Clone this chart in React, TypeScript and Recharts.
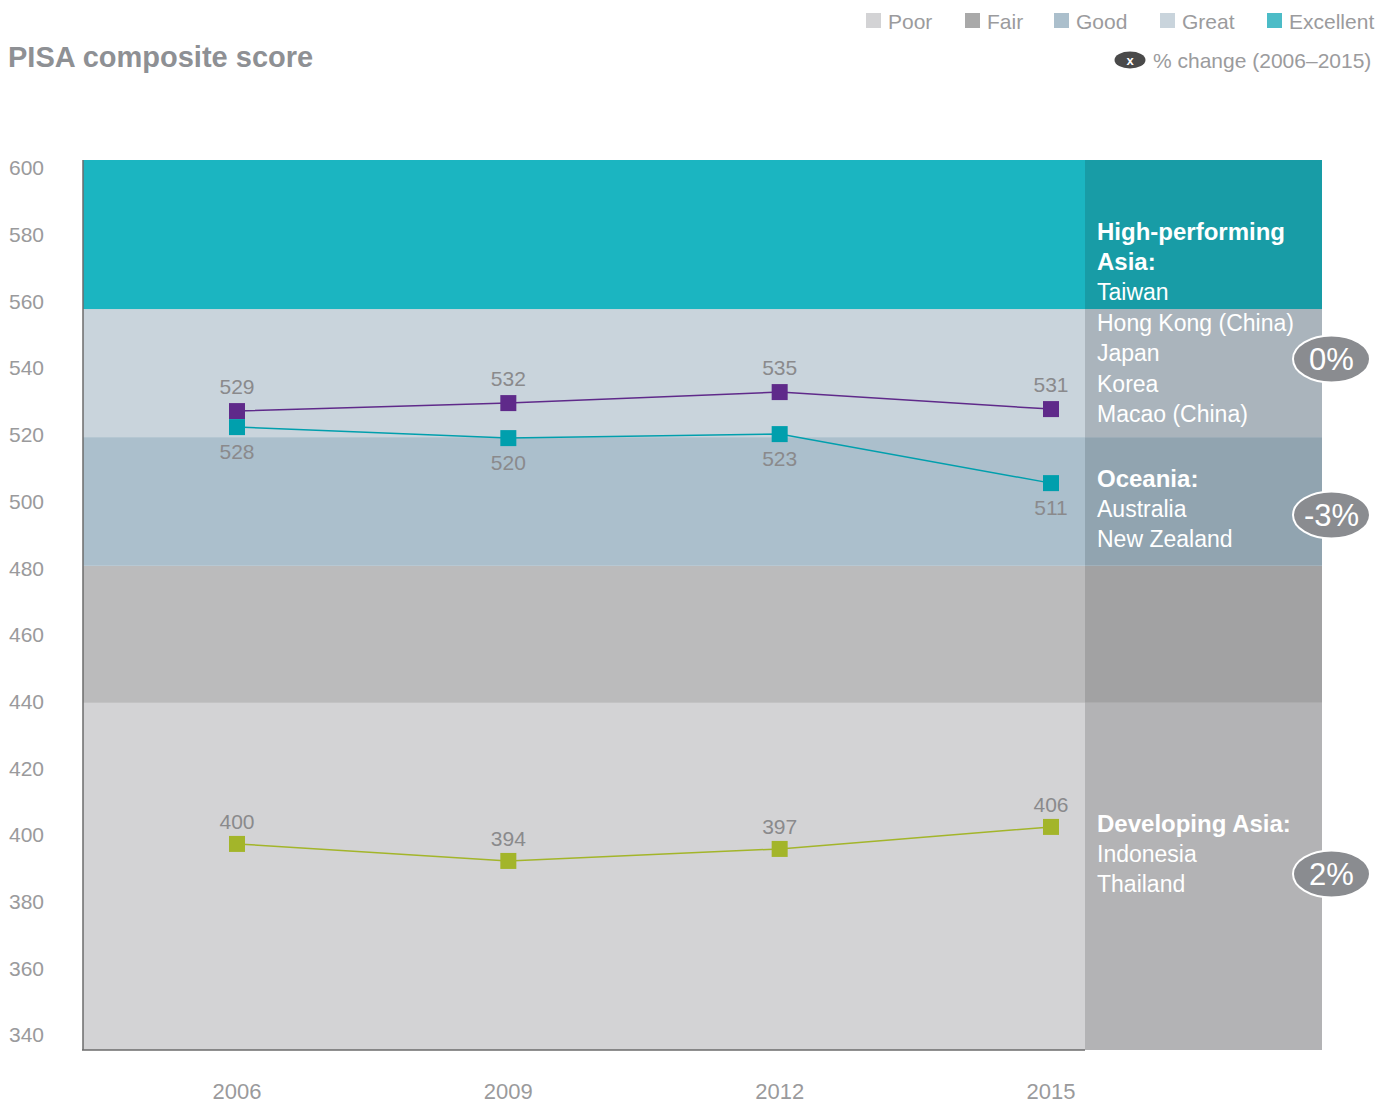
import React from 'react';
import { LineChart, Line, XAxis, YAxis, ReferenceArea, LabelList } from 'recharts';

// ---- data ----
const years = ['2006', '2009', '2012', '2015'];
// plotted positions (as drawn in the picture)
const highAsia = [527.1, 529.5, 532.8, 527.7];
const oceania = [522.3, 519.0, 520.2, 505.5];
const devAsia = [397.3, 392.2, 395.8, 402.4];
// printed value labels
const highAsiaLabels = ['529', '532', '535', '531'];
const oceaniaLabels = ['528', '520', '523', '511'];
const devAsiaLabels = ['400', '394', '397', '406'];

const yTicks = [340, 360, 380, 400, 420, 440, 460, 480, 500, 520, 540, 560, 580, 600];
const yDomain = [335.5, 602.4];

const bandNames = ['Poor', 'Fair', 'Good', 'Great', 'Excellent'];
const bandEdges = [335.5, 439.6, 480.7, 519.3, 557.7, 602.4];
const bandColors = ['#d3d3d5', '#bbbbbc', '#abbfcc', '#c9d4dc', '#1bb5c1'];
const bandSideColors = ['#b3b3b5', '#a2a2a3', '#91a4b0', '#aab4bc', '#189ca6'];
const legendColors = ['#d3d3d5', '#a9a9a9', '#abbfcc', '#c9d4dc', '#4cbcc7'];

const seriesColors = { high: '#5f2a8a', oce: '#009fad', dev: '#a3b52a' };

const groupHeads = [['High-performing', 'Asia:'], ['Oceania:'], ['Developing Asia:']];
const groupMembers = [
  ['Taiwan', 'Hong Kong (China)', 'Japan', 'Korea', 'Macao (China)'],
  ['Australia', 'New Zealand'],
  ['Indonesia', 'Thailand'],
];
const groupChanges = ['0%', '-3%', '2%'];

const data = years.map((y, i) => ({
  year: y,
  high: highAsia[i],
  oce: oceania[i],
  dev: devAsia[i],
}));

const FONT = '"Liberation Sans", Arial, Helvetica, sans-serif';
const PLOT_LEFT = 83;
const MAIN_RIGHT = 1085;
const PLOT_RIGHT = 1322;

function BandShape(props: any) {
  const { y, height, mainFill, sideFill, bottomLine } = props;
  return (
    <g>
      <rect x={PLOT_LEFT} y={y} width={MAIN_RIGHT - PLOT_LEFT} height={height} fill={mainFill} />
      <rect x={MAIN_RIGHT} y={y} width={PLOT_RIGHT - MAIN_RIGHT} height={height} fill={sideFill} />
      {bottomLine ? (
        <line x1={PLOT_LEFT - 1} x2={MAIN_RIGHT} y1={y + height} y2={y + height} stroke="#6b6b6b" strokeWidth={1.5} />
      ) : null}
    </g>
  );
}

const makeDot = (color: string) => (p: any) => (
  <rect key={`d-${color}-${p.index}`} x={p.cx - 8} y={p.cy - 8} width={16} height={16} fill={color} />
);

const makeLabel = (labels: string[], offset: number) => (p: any) => (
  <text
    key={`l-${offset}-${p.index}`}
    x={p.x}
    y={p.y + offset}
    textAnchor="middle"
    dominantBaseline="central"
    fill="#8a8a8c"
    fontSize={21}
    fontFamily={FONT}
  >
    {labels[p.index]}
  </text>
);

const YTick = (p: any) => (
  <text x={p.x} y={p.y} dy="0.35em" textAnchor="end" fill="#9a9a9c" fontSize={21} fontFamily={FONT}>
    {p.payload.value}
  </text>
);

const XTick = (p: any) => (
  <text x={p.x} y={p.y} dy="0.71em" textAnchor="middle" fill="#9a9a9c" fontSize={22} fontFamily={FONT}>
    {p.payload.value}
  </text>
);

export default function App() {
  const legendX = [866, 965, 1054, 1160, 1267];
  const groupY = [231, 478, 823];
  const bubbleY = [359, 515, 874];
  return (
    <div style={{ position: 'absolute', left: 0, top: 0, width: 1390, height: 1105, fontFamily: FONT, background: '#fff' }}>
      <LineChart
        width={1390}
        height={1105}
        data={data}
        margin={{ top: 160, right: 68, left: 0, bottom: 0 }}
      >
        {bandNames.map((name, i) => (
          <ReferenceArea
            key={name}
            y1={bandEdges[i]}
            y2={bandEdges[i + 1]}
            ifOverflow="visible"
            shape={(p: any) => (
              <BandShape {...p} mainFill={bandColors[i]} sideFill={bandSideColors[i]} bottomLine={i === 0} />
            )}
          />
        ))}
        <XAxis
          dataKey="year"
          height={55}
          padding={{ left: 154, right: 271 }}
          axisLine={false}
          tickLine={false}
          tickSize={0}
          tickMargin={33}
          tick={<XTick />}
          interval={0}
        />
        <YAxis
          width={83}
          type="number"
          domain={yDomain}
          ticks={yTicks}
          allowDataOverflow
          axisLine={{ stroke: '#6b6b6b', strokeWidth: 1.5 }}
          tickLine={false}
          tickSize={0}
          tickMargin={39}
          tick={<YTick />}
          interval={0}
        />
        <Line
          dataKey="high"
          stroke={seriesColors.high}
          strokeWidth={1.5}
          dot={makeDot(seriesColors.high)}
          activeDot={false}
          isAnimationActive={false}
        >
          <LabelList dataKey="high" content={makeLabel(highAsiaLabels, -25)} />
        </Line>
        <Line
          dataKey="oce"
          stroke={seriesColors.oce}
          strokeWidth={1.5}
          dot={makeDot(seriesColors.oce)}
          activeDot={false}
          isAnimationActive={false}
        >
          <LabelList dataKey="oce" content={makeLabel(oceaniaLabels, 24)} />
        </Line>
        <Line
          dataKey="dev"
          stroke={seriesColors.dev}
          strokeWidth={1.5}
          dot={makeDot(seriesColors.dev)}
          activeDot={false}
          isAnimationActive={false}
        >
          <LabelList dataKey="dev" content={makeLabel(devAsiaLabels, -22)} />
        </Line>
      </LineChart>

      <svg
        width={1390}
        height={1105}
        style={{ position: 'absolute', left: 0, top: 0, pointerEvents: 'none' }}
        fontFamily={FONT}
      >
        <text x={8} y={57} dominantBaseline="central" fontSize={29} fontWeight="bold" fill="#8e9094">
          PISA composite score
        </text>

        {bandNames.map((name, i) => (
          <g key={name}>
            <rect x={legendX[i]} y={13} width={15} height={15} fill={legendColors[i]} />
            <text x={legendX[i] + 22} y={21} dominantBaseline="central" fontSize={21} fill="#9b9b9d">
              {name}
            </text>
          </g>
        ))}
        <ellipse cx={1130} cy={60} rx={15.5} ry={8.5} fill="#4a4a4a" />
        <text x={1130} y={60} dominantBaseline="central" textAnchor="middle" fontSize={13} fontWeight="bold" fill="#fff">
          x
        </text>
        <text x={1153} y={60} dominantBaseline="central" fontSize={21} fill="#9b9b9d">
          % change (2006–2015)
        </text>

        {groupHeads.map((heads, g) => {
          const lines = [...heads.map((t) => ({ t, b: true })), ...groupMembers[g].map((t) => ({ t, b: false }))];
          return (
            <g key={g}>
              {lines.map((ln, k) => (
                <text
                  key={k}
                  x={1097}
                  y={groupY[g] + k * 30.5}
                  dominantBaseline="central"
                  fontSize={ln.b ? 24 : 23}
                  fontWeight={ln.b ? 'bold' : 'normal'}
                  fill="#ffffff"
                >
                  {ln.t}
                </text>
              ))}
              <ellipse cx={1331.5} cy={bubbleY[g]} rx={38.5} ry={23.5} fill="#8a8c90" stroke="#ffffff" strokeWidth={2} />
              <text
                x={1331.5}
                y={bubbleY[g]}
                dominantBaseline="central"
                textAnchor="middle"
                fontSize={31}
                fill="#ffffff"
              >
                {groupChanges[g]}
              </text>
            </g>
          );
        })}
      </svg>
    </div>
  );
}
